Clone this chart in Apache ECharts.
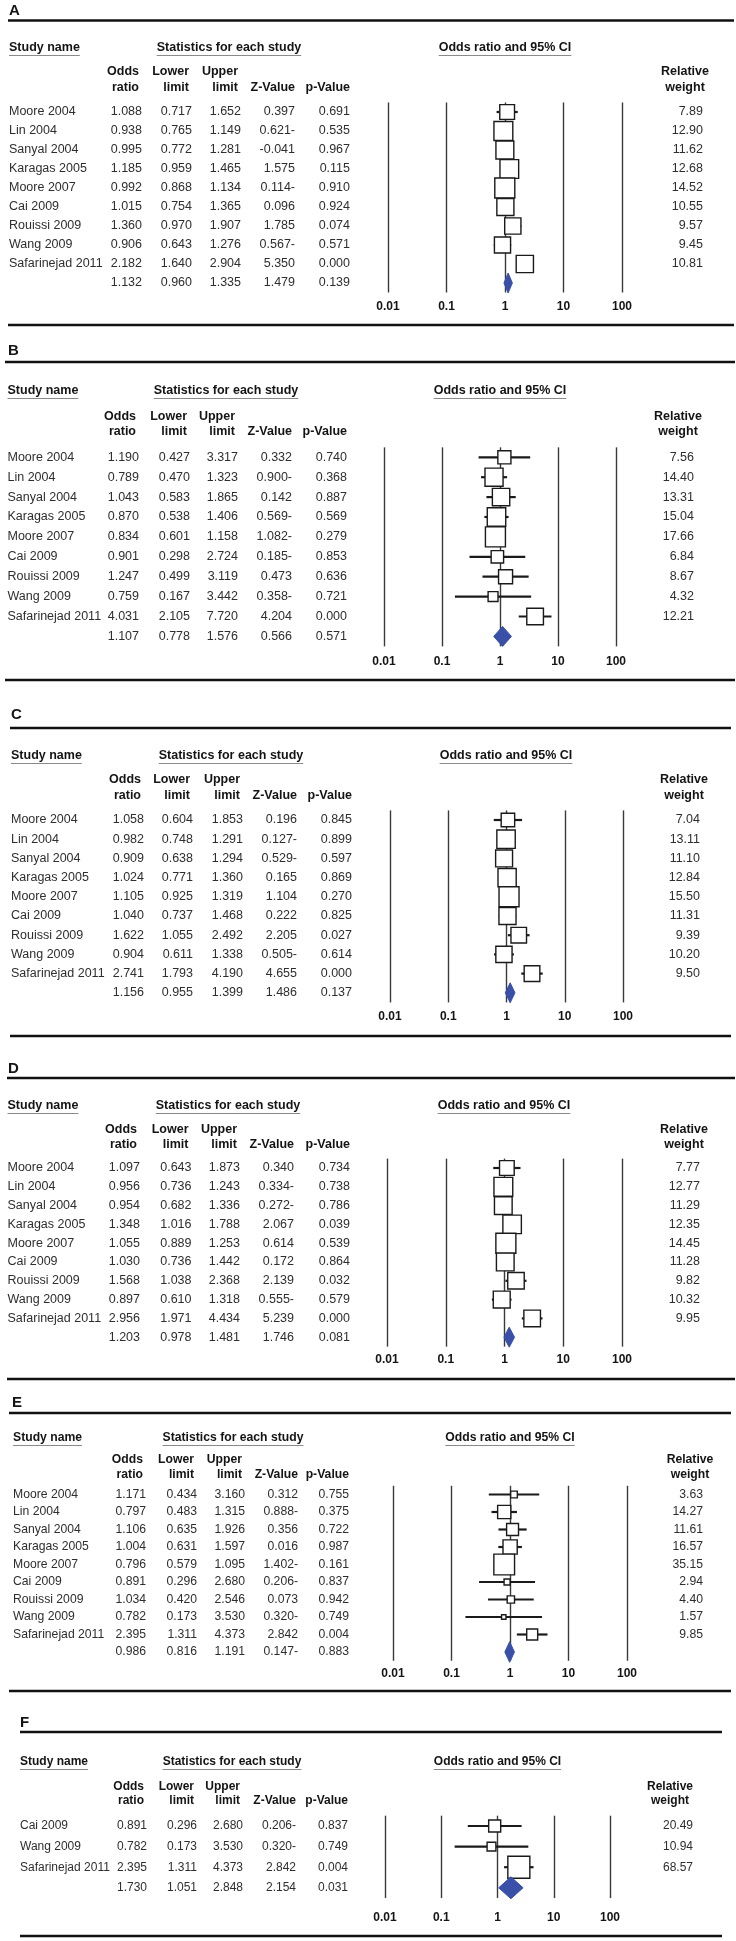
<!DOCTYPE html>
<html><head><meta charset="utf-8">
<script src="https://cdn.jsdelivr.net/npm/echarts@6/dist/echarts.min.js"></script>
<style>html,body{margin:0;padding:0;background:#fff}#c{width:736px;height:1941px}</style>
</head><body><div id="c"></div>
<script>
// ---------------- DATA ----------------
const studies9 = ['Moore 2004','Lin 2004','Sanyal 2004','Karagas 2005','Moore 2007','Cai 2009','Rouissi 2009','Wang 2009','Safarinejad 2011'];
const studiesF = ['Cai 2009','Wang 2009','Safarinejad 2011'];

const orA = [1.088,0.938,0.995,1.185,0.992,1.015,1.360,0.906,2.182];
const loA = [0.717,0.765,0.772,0.959,0.868,0.754,0.970,0.643,1.640];
const hiA = [1.652,1.149,1.281,1.465,1.134,1.365,1.907,1.276,2.904];
const zA  = ['0.397','0.621-','-0.041','1.575','0.114-','0.096','1.785','0.567-','5.350'];
const pA  = ['0.691','0.535','0.967','0.115','0.910','0.924','0.074','0.571','0.000'];
const wA  = [7.89,12.90,11.62,12.68,14.52,10.55,9.57,9.45,10.81];

const orB = [1.190,0.789,1.043,0.870,0.834,0.901,1.247,0.759,4.031];
const loB = [0.427,0.470,0.583,0.538,0.601,0.298,0.499,0.167,2.105];
const hiB = [3.317,1.323,1.865,1.406,1.158,2.724,3.119,3.442,7.720];
const zB  = ['0.332','0.900-','0.142','0.569-','1.082-','0.185-','0.473','0.358-','4.204'];
const pB  = ['0.740','0.368','0.887','0.569','0.279','0.853','0.636','0.721','0.000'];
const wB  = [7.56,14.40,13.31,15.04,17.66,6.84,8.67,4.32,12.21];

const orC = [1.058,0.982,0.909,1.024,1.105,1.040,1.622,0.904,2.741];
const loC = [0.604,0.748,0.638,0.771,0.925,0.737,1.055,0.611,1.793];
const hiC = [1.853,1.291,1.294,1.360,1.319,1.468,2.492,1.338,4.190];
const zC  = ['0.196','0.127-','0.529-','0.165','1.104','0.222','2.205','0.505-','4.655'];
const pC  = ['0.845','0.899','0.597','0.869','0.270','0.825','0.027','0.614','0.000'];
const wC  = [7.04,13.11,11.10,12.84,15.50,11.31,9.39,10.20,9.50];

const orD = [1.097,0.956,0.954,1.348,1.055,1.030,1.568,0.897,2.956];
const loD = [0.643,0.736,0.682,1.016,0.889,0.736,1.038,0.610,1.971];
const hiD = [1.873,1.243,1.336,1.788,1.253,1.442,2.368,1.318,4.434];
const zD  = ['0.340','0.334-','0.272-','2.067','0.614','0.172','2.139','0.555-','5.239'];
const pD  = ['0.734','0.738','0.786','0.039','0.539','0.864','0.032','0.579','0.000'];
const wD  = [7.77,12.77,11.29,12.35,14.45,11.28,9.82,10.32,9.95];

const orE = [1.171,0.797,1.106,1.004,0.796,0.891,1.034,0.782,2.395];
const loE = [0.434,0.483,0.635,0.631,0.579,0.296,0.420,0.173,1.311];
const hiE = [3.160,1.315,1.926,1.597,1.095,2.680,2.546,3.530,4.373];
const zE  = ['0.312','0.888-','0.356','0.016','1.402-','0.206-','0.073','0.320-','2.842'];
const pE  = ['0.755','0.375','0.722','0.987','0.161','0.837','0.942','0.749','0.004'];
const wE  = [3.63,14.27,11.61,16.57,35.15,2.94,4.40,1.57,9.85];

const orF = [0.891,0.782,2.395];
const loF = [0.296,0.173,1.311];
const hiF = [2.680,3.530,4.373];
const zF  = ['0.206-','0.320-','2.842'];
const pF  = ['0.837','0.749','0.004'];
const wF  = [20.49,10.94,68.57];

const summaryOR = [1.132,1.107,1.156,1.203,0.986,1.730];
const summaryLo = [0.960,0.778,0.955,0.978,0.816,1.051];
const summaryHi = [1.335,1.576,1.399,1.481,1.191,2.848];
const summaryZ  = ['1.479','0.566','1.486','1.746','0.147-','2.154'];
const summaryP  = ['0.139','0.571','0.137','0.081','0.883','0.031'];

const panelLetters = ['A','B','C','D','E','F'];
const tickLabels = ['0.01','0.1','1','10','100'];
const colHeads = [['Odds','ratio'],['Lower','limit'],['Upper','limit'],['','Z-Value'],['','p-Value']];

const panels = [
  {names:studies9, or:orA, lo:loA, hi:hiA, z:zA, p:pA, w:wA},
  {names:studies9, or:orB, lo:loB, hi:hiB, z:zB, p:pB, w:wB},
  {names:studies9, or:orC, lo:loC, hi:hiC, z:zC, p:pC, w:wC},
  {names:studies9, or:orD, lo:loD, hi:hiD, z:zD, p:pD, w:wD},
  {names:studies9, or:orE, lo:loE, hi:hiE, z:zE, p:pE, w:wE},
  {names:studiesF, or:orF, lo:loF, hi:hiF, z:zF, p:pF, w:wF}
];

// ---------------- LAYOUT (pixels) ----------------
const layouts = [
  {lx:9, ly:11, ruleY:20.5, rx0:8, rx1:734, hdrY:48, studyX:9, statsCX:229, ciCX:505, wCX:685, h1:72, h2:88, row0:112, rowH:19, x0:388, x1:622, cols:[142,192,241,295,350], wX:703, botY:325, labY:307, box:20, fs:12.5, hfs:12.5},
  {lx:8, ly:351, ruleY:362, rx0:5, rx1:735, hdrY:391, studyX:7.5, statsCX:226, ciCX:500, wCX:678, h1:417, h2:432, row0:457.3, rowH:19.9, x0:384, x1:616, cols:[139,190,238,292,347], wX:694, botY:680, labY:662, box:20, fs:12.5, hfs:12.5},
  {lx:11, ly:715, ruleY:728, rx0:10, rx1:731, hdrY:756, studyX:11, statsCX:231, ciCX:506, wCX:684, h1:780, h2:796, row0:820, rowH:19.2, x0:390, x1:623, cols:[144,193,243,297,352], wX:700, botY:1036, labY:1017, box:20, fs:12.5, hfs:12.5},
  {lx:8, ly:1069, ruleY:1078, rx0:7, rx1:735, hdrY:1106, studyX:7.5, statsCX:228, ciCX:504, wCX:684, h1:1130, h2:1145, row0:1168, rowH:18.8, x0:387, x1:622, cols:[140,191.5,240,294,350], wX:700, botY:1379, labY:1360, box:20, fs:12.5, hfs:12.5},
  {lx:12, ly:1403, ruleY:1413, rx0:9, rx1:731, hdrY:1438, studyX:13, statsCX:233, ciCX:510, wCX:690, h1:1460, h2:1475, row0:1494.5, rowH:17.5, x0:393, x1:627, cols:[146,197,245,298,349], wX:703, botY:1691, labY:1674, box:20.7, fs:12.2, hfs:12.2},
  {lx:20, ly:1723, ruleY:1732, rx0:20, rx1:722, hdrY:1762, studyX:20, statsCX:232, ciCX:497.5, wCX:670, h1:1787, h2:1801, row0:1826, rowH:20.6, x0:385, x1:610, cols:[147,197,243,296,348], wX:693, botY:1936, labY:1918, box:22, fs:12, hfs:12}
];
const headOffsets = [3,3,3,0,0];

const FONT = '"Liberation Sans", Arial, Helvetica, sans-serif';
const TXT = '#2e2e2e', HDR = '#141414', DIAMOND = '#3a50a8';
const mctx = document.createElement('canvas').getContext('2d');
function textW(t, font){ mctx.font = font; return mctx.measureText(t).width; }
function fmtTick(v){
  const t = tickLabels.find(s => Math.abs(Math.log10(parseFloat(s)) - Math.log10(v)) < 1e-6);
  return t === undefined ? '' : t;
}
function txt(text, x, y, align, font, fill){
  return {type:'text', x:0, y:0, style:{text:String(text), x:x, y:y, font:font, fill:fill||TXT,
    align:align, textAlign:align, verticalAlign:'middle', textVerticalAlign:'middle'}};
}

const grids=[], xAxes=[], yAxes=[], series=[], graphics=[];

panels.forEach((d, k) => {
  const L = layouts[k];
  const n = d.names.length;
  const top = L.row0 - L.rowH/2;
  const height = (n+1)*L.rowH;
  const bodyFont = L.fs + 'px ' + FONT;
  const hdrFont = 'bold ' + L.hfs + 'px ' + FONT;
  const wmax = Math.max.apply(null, d.w);

  grids.push({left:L.x0, top:top, width:L.x1-L.x0, height:height, containLabel:false});
  xAxes.push({type:'log', gridIndex:k, min:0.01, max:100, logBase:10, splitNumber:4,
    axisLine:{show:false}, axisTick:{show:false},
    axisLabel:{show:true, margin:L.labY-(top+height)-6, fontFamily:FONT, fontWeight:'bold', fontSize:12, color:HDR,
      formatter:fmtTick, showMinLabel:true, showMaxLabel:true},
    splitLine:{show:true, lineStyle:{color:'#3a3a3a', width:1.4}}});
  yAxes.push({type:'value', gridIndex:k, min:-0.5, max:n+0.5, inverse:true, show:false});

  // study CI + boxes
  series.push({type:'custom', xAxisIndex:k, yAxisIndex:k, z:3, silent:true,
    data:d.or.map((v,i)=>[v, d.lo[i], d.hi[i], i, d.w[i]]),
    encode:{x:[0,1,2], y:3},
    renderItem:(params, api) => {
      const row = api.value(3);
      const c = api.coord([api.value(0), row]);
      const a = api.coord([api.value(1), row]);
      const b = api.coord([api.value(2), row]);
      const s = L.box*Math.sqrt(api.value(4)/wmax);
      return {type:'group', children:[
        {type:'line', shape:{x1:a[0], y1:c[1], x2:b[0], y2:c[1]}, style:{stroke:'#1a1a1a', lineWidth:2.2}},
        {type:'rect', shape:{x:c[0]-s/2, y:c[1]-s/2, width:s, height:s}, style:{fill:'#fff', stroke:'#1a1a1a', lineWidth:1.4}}
      ]};
    }});

  // summary diamond
  series.push({type:'custom', xAxisIndex:k, yAxisIndex:k, z:4, silent:true,
    data:[[summaryOR[k], summaryLo[k], summaryHi[k], n]],
    encode:{x:[0,1,2], y:3},
    renderItem:(params, api) => {
      const row = api.value(3);
      const c = api.coord([api.value(0), row]);
      const a = api.coord([api.value(1), row]);
      const b = api.coord([api.value(2), row]);
      const h = L.box/2;
      return {type:'polygon', shape:{points:[[a[0],c[1]],[c[0],c[1]-h],[b[0],c[1]],[c[0],c[1]+h]]},
        style:{fill:DIAMOND, stroke:DIAMOND, lineWidth:1}};
    }});

  // table text rows
  const rows = [];
  for (let i=0;i<=n;i++) rows.push([1, i]);
  series.push({type:'custom', xAxisIndex:k, yAxisIndex:k, z:5, silent:true, clip:false,
    data:rows, encode:{x:0, y:1},
    renderItem:(params, api) => {
      const i = api.value(1);
      const y = api.coord([1, i])[1];
      const isSum = i === n;
      const vals = isSum ? [summaryOR[k], summaryLo[k], summaryHi[k]] : [d.or[i], d.lo[i], d.hi[i]];
      const ch = [];
      if (!isSum) ch.push(txt(d.names[i], L.studyX, y, 'left', bodyFont));
      vals.forEach((v,j)=>ch.push(txt(v.toFixed(3), L.cols[j], y, 'right', bodyFont)));
      ch.push(txt(isSum ? summaryZ[k] : d.z[i], L.cols[3], y, 'right', bodyFont));
      ch.push(txt(isSum ? summaryP[k] : d.p[i], L.cols[4], y, 'right', bodyFont));
      if (!isSum) ch.push(txt(d.w[i].toFixed(2), L.wX, y, 'right', bodyFont));
      return {type:'group', children:ch};
    }});

  // static headers, rules
  graphics.push(txt(panelLetters[k], L.lx, L.ly, 'left', 'bold 15px ' + FONT, HDR));
  graphics.push({type:'line', shape:{x1:L.rx0, y1:L.ruleY, x2:L.rx1, y2:L.ruleY}, style:{stroke:'#111', lineWidth:2.6}});
  graphics.push({type:'line', shape:{x1:L.rx0, y1:L.botY, x2:L.rx1, y2:L.botY}, style:{stroke:'#111', lineWidth:2.6}});

  const underline = (t, xl) => {
    const w = textW(t, hdrFont);
    graphics.push({type:'line', shape:{x1:xl, y1:L.hdrY+7.5, x2:xl+w, y2:L.hdrY+7.5}, style:{stroke:'#8a8a8a', lineWidth:1.2}});
  };
  graphics.push(txt('Study name', L.studyX, L.hdrY, 'left', hdrFont, HDR));
  underline('Study name', L.studyX);
  const st = 'Statistics for each study';
  graphics.push(txt(st, L.statsCX, L.hdrY, 'center', hdrFont, HDR));
  underline(st, L.statsCX - textW(st, hdrFont)/2);
  const ci = 'Odds ratio and 95% CI';
  graphics.push(txt(ci, L.ciCX, L.hdrY, 'center', hdrFont, HDR));
  underline(ci, L.ciCX - textW(ci, hdrFont)/2);

  colHeads.forEach((pair, j) => {
    const x = L.cols[j] - headOffsets[j];
    if (pair[0]) graphics.push(txt(pair[0], x, L.h1, 'right', hdrFont, HDR));
    graphics.push(txt(pair[1], x, L.h2, 'right', hdrFont, HDR));
  });
  graphics.push(txt('Relative', L.wCX, L.h1, 'center', hdrFont, HDR));
  graphics.push(txt('weight', L.wCX, L.h2, 'center', hdrFont, HDR));
});

const chart = echarts.init(document.getElementById('c'), null, {renderer:'canvas', width:736, height:1941});
chart.setOption({
  animation:false,
  backgroundColor:'#fff',
  grid:grids, xAxis:xAxes, yAxis:yAxes, series:series,
  graphic:{elements:graphics}
});
</script>
</body></html>
